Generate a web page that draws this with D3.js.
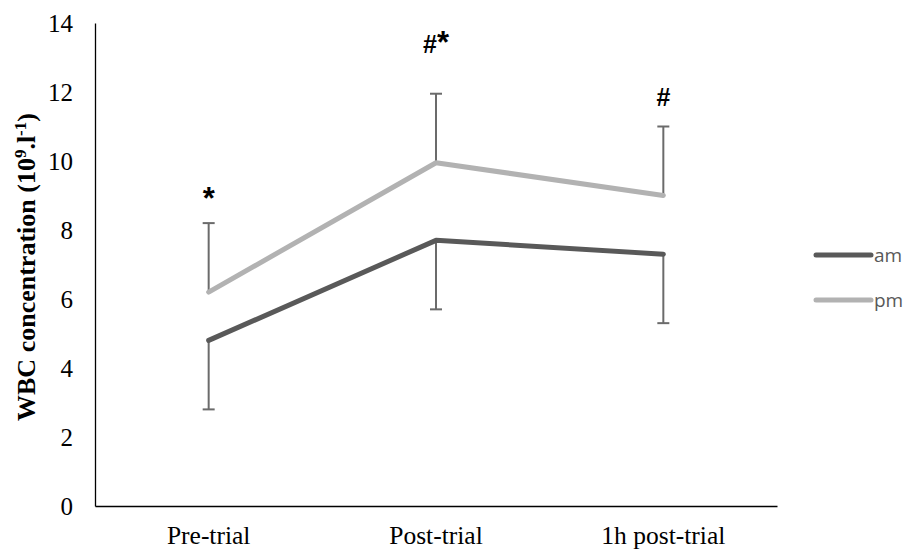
<!DOCTYPE html>
<html>
<head>
<meta charset="utf-8">
<script src="https://cdn.jsdelivr.net/npm/d3@7"></script>
<style>
  body { margin: 0; background: #fff; }
</style>
</head>
<body>
<script>
// chart values
var categories = ["Pre-trial", "Post-trial", "1h post-trial"];
var amValues = [4.8, 7.7, 7.3];
var pmValues = [6.2, 9.95, 9.0];
var amErr = [2.0, 2.0, 2.0];
var pmErr = [2.0, 2.0, 2.0];
var yTicks = [0, 2, 4, 6, 8, 10, 12, 14];
var marks = ["*", "#*", "#"];
var markValues = [8.6, 13.13, 11.6];

var width = 908, height = 551;
var margin = { left: 95, right: 131, top: 23, bottom: 45 };

var svg = d3.select("body").append("svg")
    .attr("width", width)
    .attr("height", height);

var x = d3.scaleBand()
    .domain(categories)
    .range([margin.left, width - margin.right]);

var y = d3.scaleLinear()
    .domain([0, 14])
    .range([height - margin.bottom, margin.top]);

var cx = function (i) { return x(categories[i]) + x.bandwidth() / 2; };

// axes
var yAxis = d3.axisLeft(y).tickValues(yTicks).tickSize(0).tickPadding(22);
var yG = svg.append("g")
    .attr("transform", "translate(" + margin.left + ",0)")
    .call(yAxis);
yG.select(".domain").attr("stroke", "#000").attr("stroke-width", 1.3);
yG.selectAll("text")
    .attr("font-family", "'Liberation Serif', serif")
    .attr("font-size", 25)
    .attr("fill", "#000");

var xAxis = d3.axisBottom(x).tickSize(0).tickPadding(20);
var xG = svg.append("g")
    .attr("transform", "translate(0," + (height - margin.bottom) + ")")
    .call(xAxis);
xG.select(".domain").attr("stroke", "#000").attr("stroke-width", 1.6);
xG.selectAll("text")
    .attr("font-family", "'Liberation Serif', serif")
    .attr("font-size", 25.5)
    .attr("fill", "#000");

// y title
var title = svg.append("text")
    .attr("transform", "translate(35,267) rotate(-90)")
    .attr("text-anchor", "middle")
    .attr("font-family", "'Liberation Serif', serif")
    .attr("font-weight", "bold")
    .attr("font-size", 26)
    .attr("fill", "#000");
title.append("tspan").text("WBC concentration (10");
title.append("tspan").attr("dy", -9).attr("font-size", 17).text("9");
title.append("tspan").attr("dy", 9).text(".l");
title.append("tspan").attr("dy", -9).attr("font-size", 17).text("-1");
title.append("tspan").attr("dy", 9).text(")");

// error bars (drawn under lines)
var errColor = "#6b6b6b";
function errorBars(vals, errs, dir) {
    var g = svg.append("g").attr("stroke", errColor).attr("stroke-width", 2);
    vals.forEach(function (v, i) {
        var end = v + dir * errs[i];
        g.append("line")
            .attr("x1", cx(i)).attr("x2", cx(i))
            .attr("y1", y(v)).attr("y2", y(end));
        g.append("line")
            .attr("x1", cx(i) - 6).attr("x2", cx(i) + 6)
            .attr("y1", y(end)).attr("y2", y(end));
    });
}
errorBars(amValues, amErr, -1);
errorBars(pmValues, pmErr, 1);

// lines
var line = d3.line()
    .x(function (d, i) { return cx(i); })
    .y(function (d) { return y(d); });

var series = [
    { name: "am", values: amValues, color: "#595959" },
    { name: "pm", values: pmValues, color: "#b2b2b2" }
];

series.forEach(function (s) {
    svg.append("path")
        .datum(s.values)
        .attr("d", line)
        .attr("fill", "none")
        .attr("stroke", s.color)
        .attr("stroke-width", 5)
        .attr("stroke-linecap", "round")
        .attr("stroke-linejoin", "round");
});

// significance marks (asterisk drawn a little larger, like the original)
marks.forEach(function (m, i) {
    var t = svg.append("text")
        .attr("x", cx(i))
        .attr("y", y(markValues[i]))
        .attr("text-anchor", "middle")
        .attr("font-family", "'Liberation Sans', Arial, sans-serif")
        .attr("font-weight", "bold")
        .attr("fill", "#000");
    m.split("").forEach(function (c) {
        t.append("tspan")
            .attr("font-size", c === "*" ? 31 : 25)
            .text(c);
    });
});

// legend
var legend = svg.append("g").attr("transform", "translate(816,255)");
series.forEach(function (s, i) {
    var g = legend.append("g").attr("transform", "translate(0," + (i * 45) + ")");
    g.append("line")
        .attr("x1", 0).attr("x2", 55)
        .attr("stroke", s.color)
        .attr("stroke-width", 5)
        .attr("stroke-linecap", "round");
    g.append("text")
        .attr("x", 58).attr("y", 7)
        .attr("font-family", "'Open Sans', sans-serif")
        .attr("font-size", 19)
        .attr("fill", "#595959")
        .text(s.name);
});
</script>
</body>
</html>
